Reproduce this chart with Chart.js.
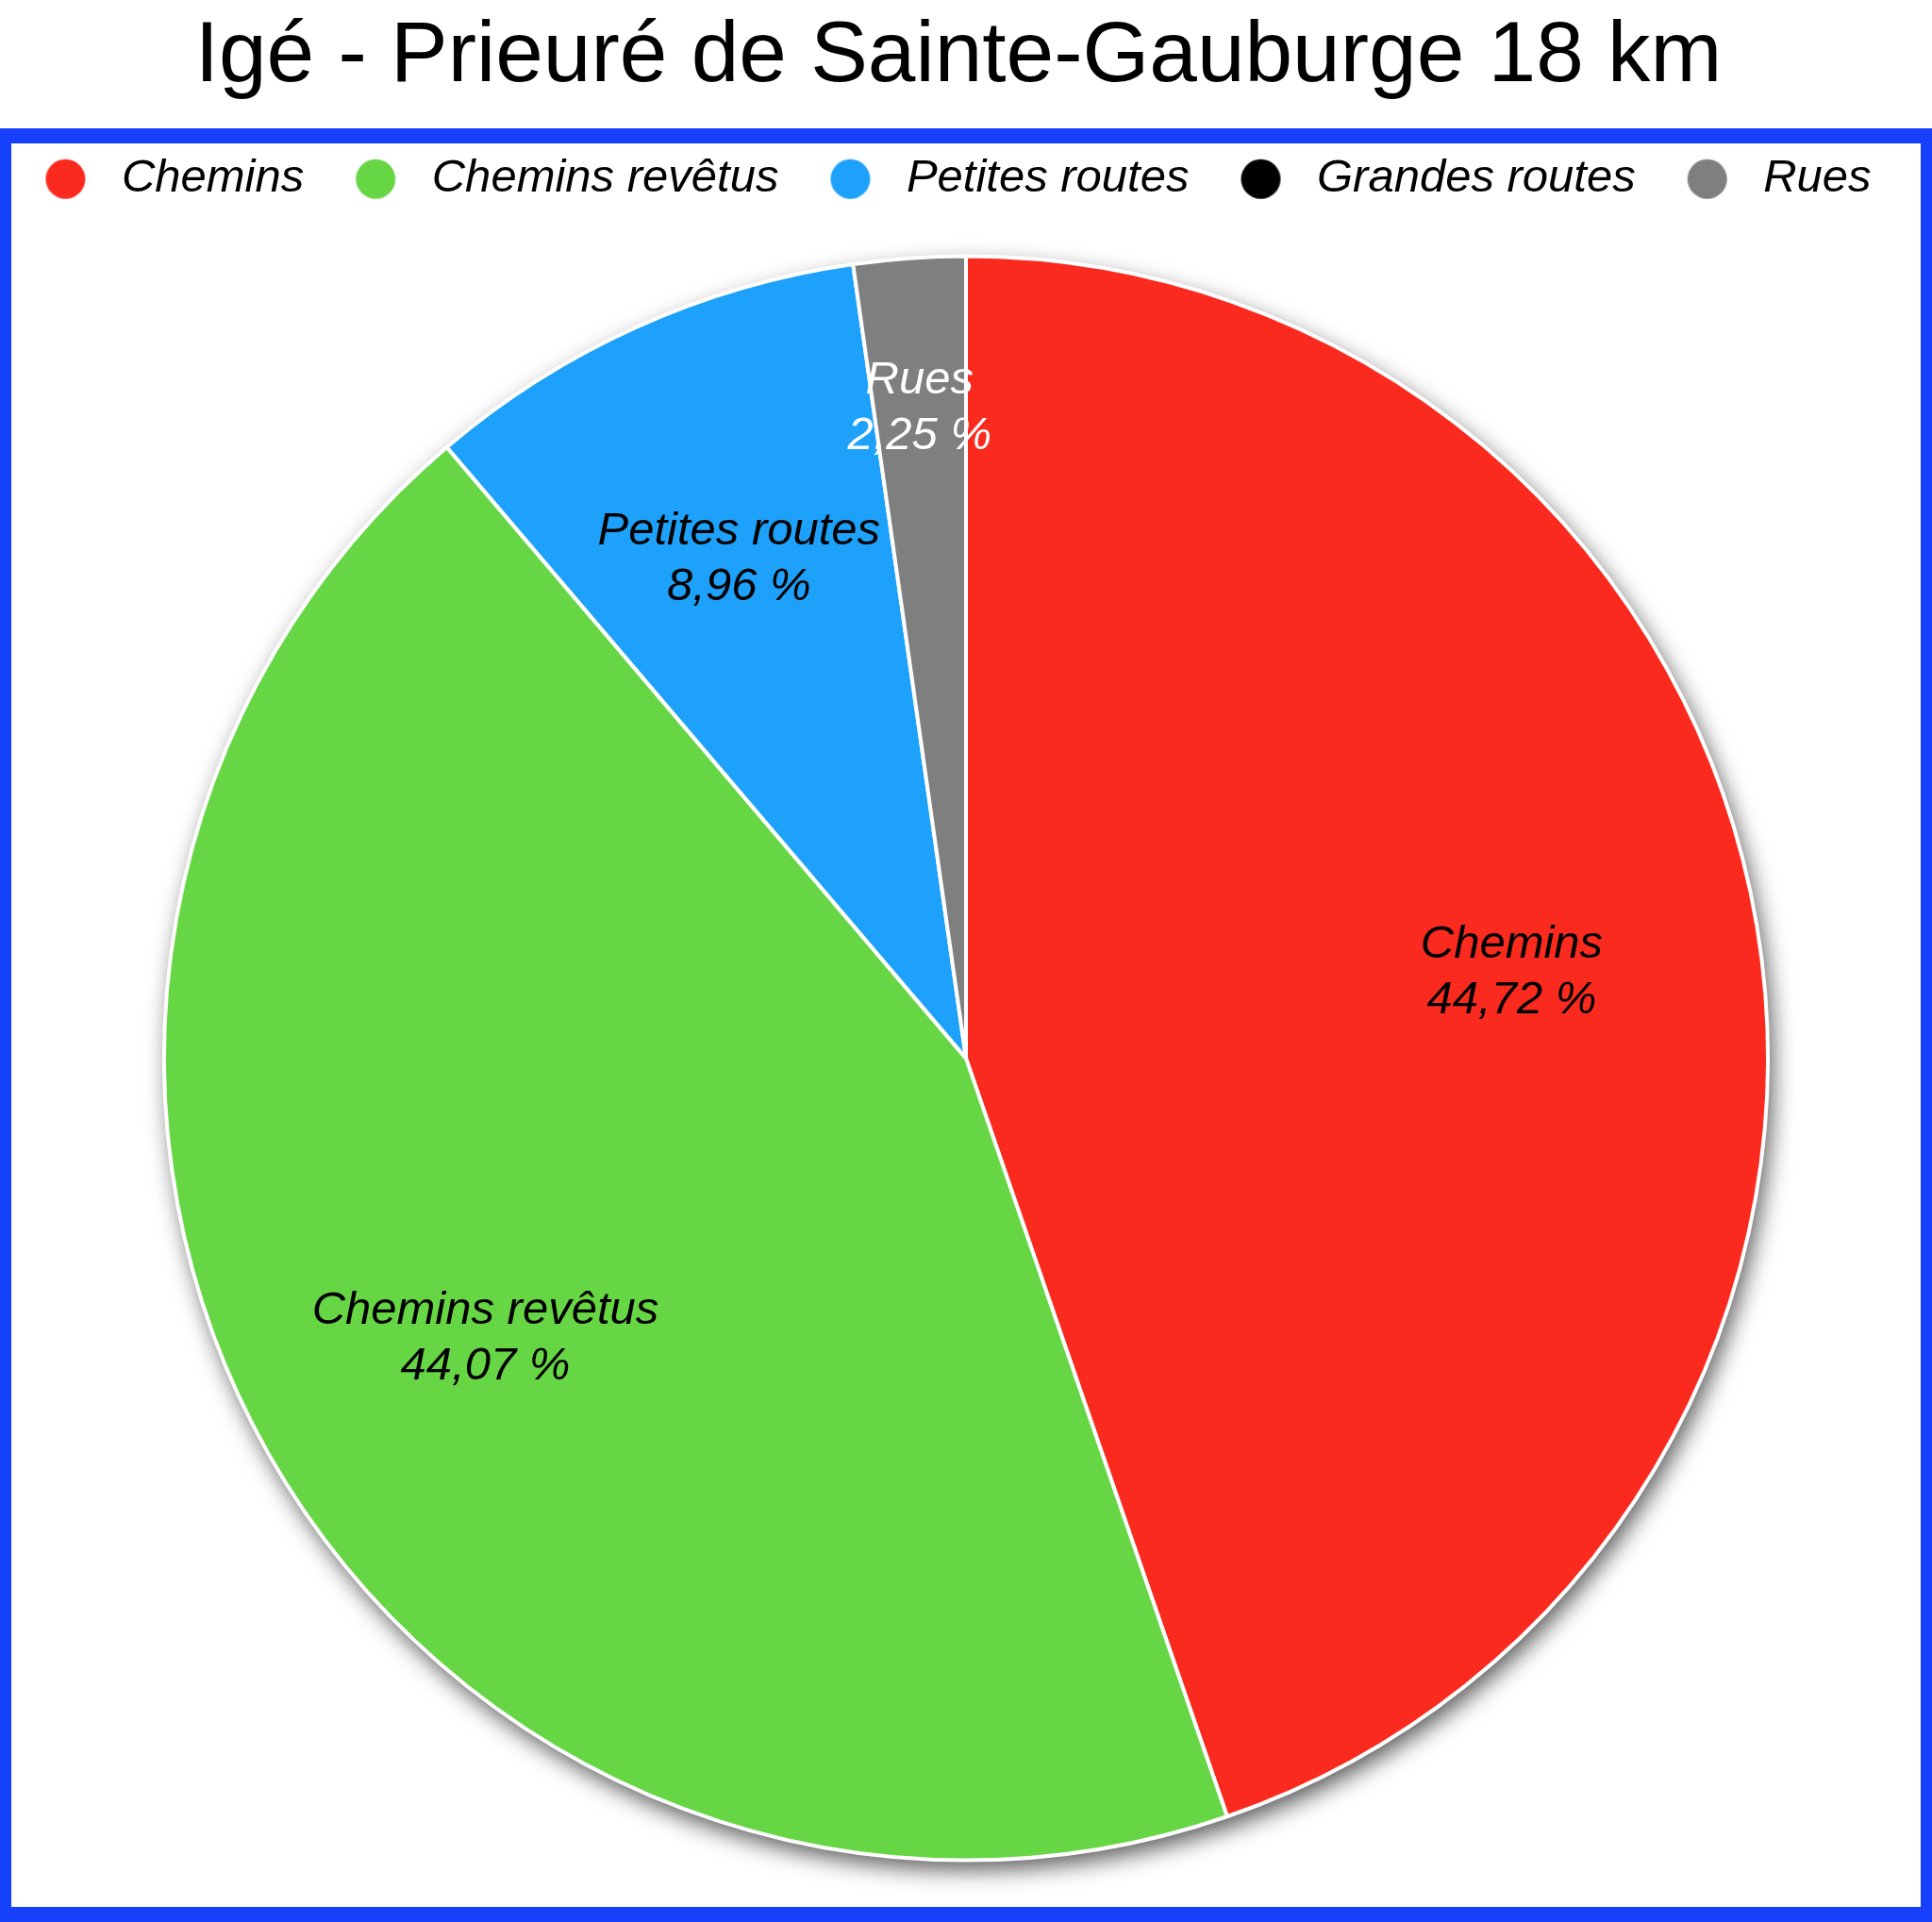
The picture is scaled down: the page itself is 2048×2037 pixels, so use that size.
<!DOCTYPE html>
<html>
<head>
<meta charset="utf-8">
<title>Igé - Prieuré de Sainte-Gauburge 18 km</title>
<script src="https://cdn.jsdelivr.net/npm/chart.js@4"></script>
<style>
  html, body { margin: 0; padding: 0; background: #fff; }
  canvas { display: block; }
</style>
</head>
<body>
<canvas id="pieChart" width="2048" height="2037"></canvas>
<script>
const chartTitle = "Igé - Prieuré de Sainte-Gauburge 18 km";
const categories = ["Chemins", "Chemins revêtus", "Petites routes", "Grandes routes", "Rues"];
const shares = [44.72, 44.07, 8.96, 0, 2.25];
const sliceColors = ["#fa2a1f", "#66d645", "#1ea1fa", "#000000", "#7f7f7f"];
const labelColors = ["#000", "#000", "#000", "#fff", "#fff"];

const FONT = "'Liberation Sans', Arial, Helvetica, sans-serif";

function makeDot(color) {
    const c = document.createElement("canvas");
    c.width = 44;
    c.height = 44;
    const g = c.getContext("2d");
    g.fillStyle = color;
    g.beginPath();
    g.arc(22, 22, 21, 0, Math.PI * 2);
    g.fill();
    return c;
}

const frame = {
    id: "frame",
    beforeDraw(chart) {
        const ctx = chart.ctx;
        ctx.save();
        ctx.strokeStyle = "#1640fb";
        ctx.lineWidth = 16;
        ctx.strokeRect(4, 144, 2040, 1885);
        ctx.restore();
    }
};

// title and legend sit a little left of the pie in the original
const nudge = {
    id: "nudge",
    afterLayout(chart) {
        if (chart.titleBlock) {
            chart.titleBlock.left -= 8;
            chart.titleBlock.right -= 8;
        }
        if (chart.legend) {
            chart.legend.left -= 15;
            chart.legend.right -= 15;
        }
    }
};

// one shadow under the whole pie, so slices don't shade each other
const pieShadow = {
    id: "pieShadow",
    beforeDatasetsDraw(chart) {
        const arc = chart.getDatasetMeta(0).data[0];
        if (!arc) return;
        const ctx = chart.ctx;
        ctx.save();
        ctx.shadowColor = "rgba(0,0,0,0.65)";
        ctx.shadowBlur = 24;
        ctx.shadowOffsetX = 5;
        ctx.shadowOffsetY = 10;
        ctx.fillStyle = "#fff";
        ctx.beginPath();
        ctx.arc(arc.x, arc.y, arc.outerRadius, 0, Math.PI * 2);
        ctx.fill();
        ctx.restore();
    }
};

const sliceLabels = {
    id: "sliceLabels",
    afterDatasetsDraw(chart) {
        const ctx = chart.ctx;
        const meta = chart.getDatasetMeta(0);
        const total = shares.reduce((s, v) => s + v, 0);
        ctx.save();
        ctx.font = "italic 49px " + FONT;
        ctx.textAlign = "center";
        ctx.textBaseline = "middle";
        meta.data.forEach((arc, i) => {
            const v = shares[i];
            if (!v) return;
            const mid = (arc.startAngle + arc.endAngle) / 2;
            const k = v / total < 0.05 ? 0.82 : 0.69;
            const x = arc.x + Math.cos(mid) * arc.outerRadius * k;
            const y = arc.y + Math.sin(mid) * arc.outerRadius * k + 6;
            ctx.fillStyle = labelColors[i];
            ctx.fillText(categories[i], x, y - 29);
            ctx.fillText(v.toFixed(2).replace(".", ",") + " %", x, y + 30);
        });
        ctx.restore();
    }
};

new Chart(document.getElementById("pieChart"), {
    type: "pie",
    data: {
        labels: categories,
        datasets: [{
            data: shares,
            backgroundColor: sliceColors,
            borderColor: "#fff",
            borderWidth: 4,
            radius: 850
        }]
    },
    options: {
        responsive: false,
        animation: false,
        events: [],
        layout: { padding: { top: 0, bottom: 18, left: 0, right: 0 } },
        plugins: {
            title: {
                display: true,
                text: chartTitle,
                color: "#000",
                font: { family: FONT, size: 91, weight: "normal" },
                padding: { top: 6, bottom: 9 }
            },
            legend: {
                position: "top",
                labels: {
                    color: "#000",
                    font: { family: FONT, size: 49, style: "italic" },
                    usePointStyle: true,
                    pointStyleWidth: 70,
                    padding: 41,
                    generateLabels(chart) {
                        const items = Chart.overrides.doughnut.plugins.legend.labels.generateLabels(chart);
                        items.forEach((it, i) => {
                            it.pointStyle = makeDot(sliceColors[i]);
                            it.fontColor = "#000";
                        });
                        return items;
                    }
                }
            },
            tooltip: { enabled: false }
        }
    },
    plugins: [frame, nudge, pieShadow, sliceLabels]
});
</script>
</body>
</html>
